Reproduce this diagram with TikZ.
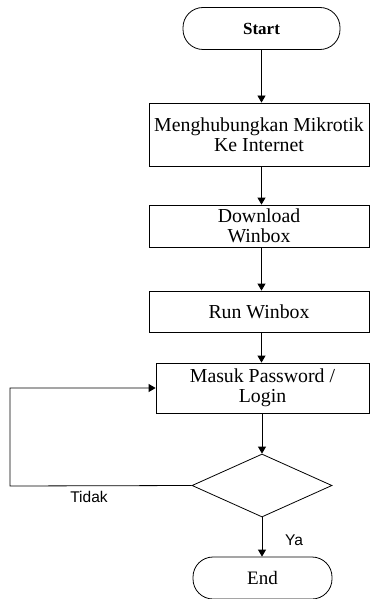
\documentclass[tikz,border=0pt]{standalone}
\usepackage{fontspec}
\setmainfont{Liberation Serif}
\newfontfamily\arialfont{Liberation Sans}
\usetikzlibrary{shapes.geometric,arrows.meta}
\begin{document}
\begin{tikzpicture}[x=1pt,y=-1pt,
  every node/.style={inner sep=0pt, align=center},
  procbox/.style={draw, line width=0.8pt, rectangle, font=\fontsize{19.8}{20.5}\selectfont},
  termbox/.style={draw, line width=0.8pt, rectangle, rounded corners=20pt, minimum height=42pt},
  decbox/.style={draw, line width=0.8pt, diamond, aspect=2.22, minimum width=140pt, minimum height=63pt},
  flow/.style={draw, line width=0.8pt, -{Triangle[width=8pt,length=7pt]}},
  lbl/.style={font=\arialfont\fontsize{15.5}{16}\selectfont}]
\useasboundingbox (0,0) rectangle (370,599);
\fill[white] (0,0) rectangle (370,599);
\node[termbox, minimum width=157pt, font=\bfseries\fontsize{17}{18}\selectfont] (start) at (261.5,28.5) {Start};
\node[procbox, minimum width=220pt, minimum height=63pt] (b1) at (259,134.5) {Menghubungkan Mikrotik\\Ke Internet};
\node[procbox, minimum width=220pt, minimum height=42pt] (b2) at (259,226) {Download\\Winbox};
\node[procbox, minimum width=220pt, minimum height=41pt] (b3) at (259,311.5) {Run Winbox};
\node[procbox, minimum width=213pt, minimum height=50pt] (b4) at (262.5,388) {Masuk Password /\\Login};
\node[decbox] (dec) at (262,485.5) {};
\node[termbox, minimum width=139pt, font=\fontsize{19}{20}\selectfont] (end) at (262.5,578) {End};
\coordinate (lp) at (10,486);
\node[lbl] (tidak) at (89,497) {Tidak};
\node[lbl] (ya) at (294,540) {Ya};
\draw[flow] (start.south) -- (start.south |- b1.north);
\draw[flow] (b1.south -| start.south) -- (start.south |- b2.north);
\draw[flow] (b2.south -| start.south) -- (start.south |- b3.north);
\draw[flow] (b3.south -| start.south) -- (start.south |- b4.north);
\draw[flow] (b4.south -| dec.north) -- (dec.north);
\draw[flow] (dec.south) -- (end.north -| dec.south);
\draw[flow] (dec.west) -- (lp) |- (b4.west);
\end{tikzpicture}
\end{document}
